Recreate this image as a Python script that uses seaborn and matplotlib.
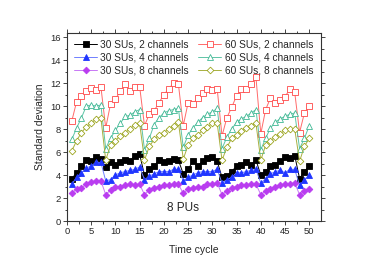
import matplotlib
matplotlib.use("Agg")
import matplotlib.pyplot as plt
import numpy as np
import pandas as pd
import seaborn as sns
from matplotlib.ticker import MultipleLocator

# Data (time cycles 1..50)
cycles = list(range(1, 51))

su30_ch2 = [3.7, 4.2, 4.8, 5.3, 5.2, 5.6, 5.4, 4.7, 5.1, 4.9,
            5.1, 5.3, 5.2, 5.7, 5.8, 4.0, 4.5, 4.8, 5.3, 5.1,
            5.2, 5.4, 5.3, 4.1, 4.5, 5.2, 4.8, 5.2, 5.5, 5.6,
            5.2, 3.8, 3.9, 4.3, 4.8, 4.9, 5.1, 4.9, 5.3, 4.0,
            4.3, 4.8, 4.9, 5.2, 5.6, 5.5, 5.7, 3.7, 4.3, 4.8]
su30_ch4 = [3.2, 3.8, 4.2, 4.6, 4.8, 5.1, 5.1, 3.5, 3.6, 4.0,
            4.2, 4.3, 4.4, 4.5, 4.7, 3.6, 3.9, 4.1, 4.3, 4.3,
            4.3, 4.5, 4.5, 3.5, 3.8, 4.0, 4.2, 4.3, 4.3, 4.3,
            4.5, 3.3, 3.6, 3.8, 4.2, 4.2, 4.3, 4.4, 4.5, 3.3,
            3.7, 4.1, 4.3, 4.4, 4.2, 4.5, 4.5, 3.1, 3.6, 4.0]
su30_ch8 = [2.4, 2.8, 2.9, 3.2, 3.4, 3.5, 3.5, 2.3, 2.7, 3.0,
            3.0, 3.1, 3.2, 3.1, 3.2, 2.3, 2.7, 2.9, 3.0, 3.1,
            3.1, 3.2, 3.2, 2.4, 2.8, 2.9, 3.0, 3.0, 3.2, 3.2,
            3.3, 2.3, 2.6, 2.9, 3.0, 3.1, 3.1, 3.2, 3.2, 2.3,
            2.6, 2.8, 3.0, 3.1, 3.2, 3.2, 3.3, 2.3, 2.6, 2.8]
su60_ch2 = [8.7, 10.4, 10.9, 11.3, 11.6, 11.4, 11.7, 8.1, 10.2, 10.6,
            11.3, 11.9, 11.3, 11.7, 11.7, 8.3, 9.3, 9.6, 10.3, 11.0,
            11.5, 12.0, 11.9, 8.3, 10.3, 10.2, 10.7, 11.1, 11.5, 11.4,
            11.5, 7.4, 9.0, 9.9, 10.9, 11.5, 11.5, 11.9, 12.5, 7.6,
            9.7, 10.7, 10.3, 10.5, 10.8, 11.5, 11.2, 7.7, 9.4, 10.0]
su60_ch4 = [7.1, 8.1, 9.0, 10.0, 10.1, 10.0, 10.1, 6.3, 7.2, 7.9,
            8.5, 9.1, 9.2, 9.5, 9.7, 6.2, 7.2, 8.4, 9.0, 9.4,
            9.6, 9.7, 9.8, 6.4, 7.5, 8.1, 8.6, 9.0, 9.3, 9.5,
            9.8, 6.3, 7.3, 8.0, 8.6, 8.9, 9.1, 9.4, 9.7, 6.2,
            7.2, 8.1, 8.6, 8.9, 9.1, 9.3, 9.4, 6.3, 7.2, 8.3]
su60_ch8 = [6.1, 7.0, 7.7, 8.2, 8.5, 8.9, 9.0, 5.3, 6.6, 7.0,
            7.4, 7.7, 8.0, 8.4, 8.5, 5.3, 6.5, 7.1, 7.5, 7.7,
            8.0, 8.3, 8.6, 5.4, 6.6, 7.2, 7.5, 7.9, 8.2, 8.5,
            8.5, 5.3, 6.4, 7.2, 7.5, 7.8, 8.1, 8.3, 8.5, 5.3,
            6.6, 7.0, 7.3, 7.6, 7.9, 8.0, 8.0, 5.2, 6.5, 7.2]

series = [
    ("30 SUs, 2 channels", su30_ch2, "#000000", "#000000", "s", True),
    ("30 SUs, 4 channels", su30_ch4, "#1f35ff", "#6f7fff", "^", True),
    ("30 SUs, 8 channels", su30_ch8, "#b93cf0", "#c878f5", "D", True),
    ("60 SUs, 2 channels", su60_ch2, "#ff4848", "#ff6a6a", "s", False),
    ("60 SUs, 4 channels", su60_ch4, "#3fb894", "#5ec4a6", "^", False),
    ("60 SUs, 8 channels", su60_ch8, "#9ca51e", "#a8b040", "D", False),
]

sns.set_style("ticks")
plt.rcParams["font.family"] = ["Liberation Sans", "DejaVu Sans"]

fig = plt.figure(figsize=(3.74, 2.65), dpi=100)
ax = fig.add_axes([0.179, 0.166, 0.679, 0.711])

for label, values, mcolor, lcolor, marker, filled in series:
    df = pd.DataFrame({"cycle": cycles, "value": values})
    sns.lineplot(
        data=df, x="cycle", y="value", ax=ax, color=lcolor, linewidth=0.7,
        marker=marker, markersize=4.0 if marker != "D" else 3.4,
        markerfacecolor=mcolor if filled else "white",
        markeredgecolor=mcolor, markeredgewidth=0.6, label=label,
    )

ax.set_xlim(0, 52.4)
ax.set_ylim(0, 16.4)
ax.xaxis.set_major_locator(MultipleLocator(5))
ax.xaxis.set_minor_locator(MultipleLocator(2.5))
ax.yaxis.set_major_locator(MultipleLocator(2))
ax.yaxis.set_minor_locator(MultipleLocator(1))
ax.tick_params(axis="both", which="major", labelsize=6.8, length=3, width=0.6,
               direction="out", top=True, right=True, pad=1.5)
ax.tick_params(axis="both", which="minor", length=1.8, width=0.6,
               direction="out", top=True, right=True)
for s in ax.spines.values():
    s.set_linewidth(0.8)
    s.set_color("#333333")

ax.set_xlabel("Time cycle", fontsize=7.5, labelpad=6)
ax.set_ylabel("Standard deviation", fontsize=7.5, labelpad=4)

ax.text(24, 1.1, "8 PUs", fontsize=8.5, ha="center", va="center")

ax.legend(loc="upper left", ncol=2, frameon=False, fontsize=7.3,
          handlelength=2.3, handletextpad=0.3, columnspacing=0.9,
          labelspacing=0.28, borderaxespad=0.3, bbox_to_anchor=(0.0, 1.0))

fig.savefig("out.png", dpi=100)
